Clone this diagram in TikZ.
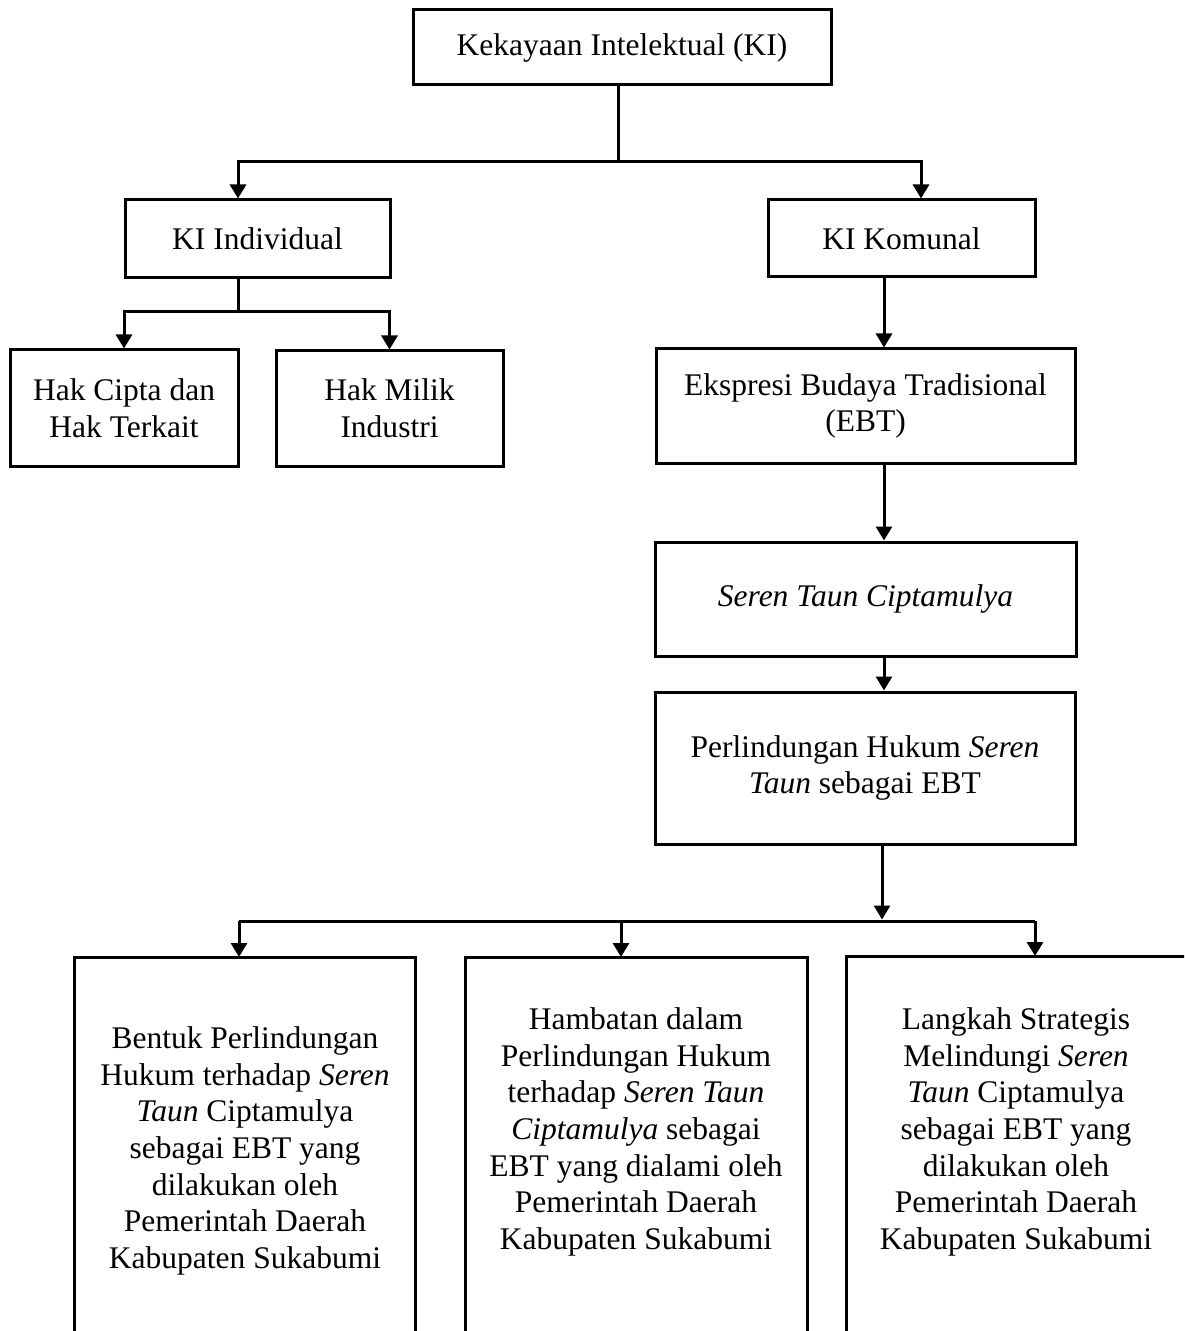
\documentclass[tikz,border=0pt]{standalone}
\usepackage{fontspec}
\setmainfont{Liberation Serif}
\usetikzlibrary{arrows.meta}
\tikzset{
  bodyfont/.style={font=\fontsize{15.75pt}{18.35pt}\selectfont},
  box/.style={draw, line width=1.5pt, inner sep=0pt, align=center, bodyfont},
  txt/.style={inner sep=0pt, align=center, bodyfont},
  conn/.style={line width=1.5pt},
  arr/.style={conn, -{Triangle[length=7pt 0 0, width=8pt 0 0]}}
}
\begin{document}
\begin{tikzpicture}[x=0.5pt,y=-0.5pt]
\useasboundingbox (0,0) rectangle (1184,1331);
\clip (0,0) rectangle (1184,1331);
\fill[white] (0,0) rectangle (1184,1331);

% boxes
\node[box, minimum width=209pt, minimum height=37.5pt] (KI) at (622,47.5) {Kekayaan Intelektual (KI)};
\node[box, minimum width=132.5pt, minimum height=39pt] (KIInd) at (257.5,239) {KI Individual};
\node[box, minimum width=133.5pt, minimum height=38.5pt] (KIKom) at (901.5,238.5) {KI Komunal};
\node[box, minimum width=114pt, minimum height=58pt] (HC) at (124,408) {Hak Cipta dan\\Hak Terkait};
\node[box, minimum width=113.5pt, minimum height=57.5pt] (HM) at (389.5,408.5) {Hak Milik\\Industri};
\node[box, minimum width=209.5pt, minimum height=57pt] (EBT) at (865.5,406) {Ekspresi Budaya Tradisional\\(EBT)};
\node[box, minimum width=210.5pt, minimum height=57pt] (ST) at (865.5,599) {\itshape Seren Taun Ciptamulya};
\node[box, minimum width=210pt, minimum height=76pt] (PH) at (865,768) {Perlindungan Hukum \textit{Seren}\\\textit{Taun} sebagai EBT};

% bottom open boxes
\coordinate (b1l) at (74,957);
\coordinate (b1r) at (415,957);
\coordinate (b2l) at (465,957);
\coordinate (b2r) at (807,957);
\coordinate (b3l) at (846,956);
\coordinate (b3r) at (1186,956);
\draw[conn] (b1l |- 0,1345) -- (b1l) -- (b1r) -- (b1r |- 0,1345);
\draw[conn] (b2l |- 0,1345) -- (b2l) -- (b2r) -- (b2r |- 0,1345);
\draw[conn] (b3l |- 0,1345) -- (b3l) -- (b3r) -- (b3r |- 0,1345);

\node[txt] (T1) at (245,1151) {Bentuk Perlindungan\\Hukum terhadap \textit{Seren}\\\textit{Taun} Ciptamulya\\sebagai EBT yang\\dilakukan oleh\\Pemerintah Daerah\\Kabupaten Sukabumi};
\node[txt] (T2) at (636,1132) {Hambatan dalam\\Perlindungan Hukum\\terhadap \textit{Seren Taun}\\\textit{Ciptamulya} sebagai\\EBT yang dialami oleh\\Pemerintah Daerah\\Kabupaten Sukabumi};
\node[txt] (T3) at (1016,1132) {Langkah Strategis\\Melindungi \textit{Seren}\\\textit{Taun} Ciptamulya\\sebagai EBT yang\\dilakukan oleh\\Pemerintah Daerah\\Kabupaten Sukabumi};

% connectors level 1
\coordinate (j1) at (618,162);
\coordinate (a1) at (238,162);
\coordinate (a2) at (921,162);
\draw[conn] (KI.south -| j1) -- (j1);
\draw[arr] (j1) -- (a1) -- (a1 |- KIInd.north);
\draw[arr] (j1) -- (a2) -- (a2 |- KIKom.north);

% KI Individual
\coordinate (j2) at (238,312);
\draw[conn] (KIInd.south -| j2) -- (j2);
\draw[arr] (j2) -| (HC.north);
\draw[arr] (j2) -| (HM.north);

% vertical chain
\coordinate (vx) at (884,0);
\draw[arr] (KIKom.south -| vx) -- (EBT.north -| vx);
\draw[arr] (EBT.south -| vx) -- (ST.north -| vx);
\draw[arr] (ST.south -| vx) -- (PH.north -| vx);

% bottom distribution
\coordinate (h0) at (882,921);
\coordinate (h1) at (239,921);
\coordinate (h2) at (621,921);
\coordinate (h3) at (1035,921);
\draw[arr] (PH.south -| h0) -- (882,919.5);
\draw[conn] (h1) -- (h3);
\draw[arr] (h1) -- (h1 |- b1l);
\draw[arr] (h2) -- (h2 |- b2l);
\draw[arr] (h3) -- (h3 |- b3l);
\end{tikzpicture}
\end{document}
